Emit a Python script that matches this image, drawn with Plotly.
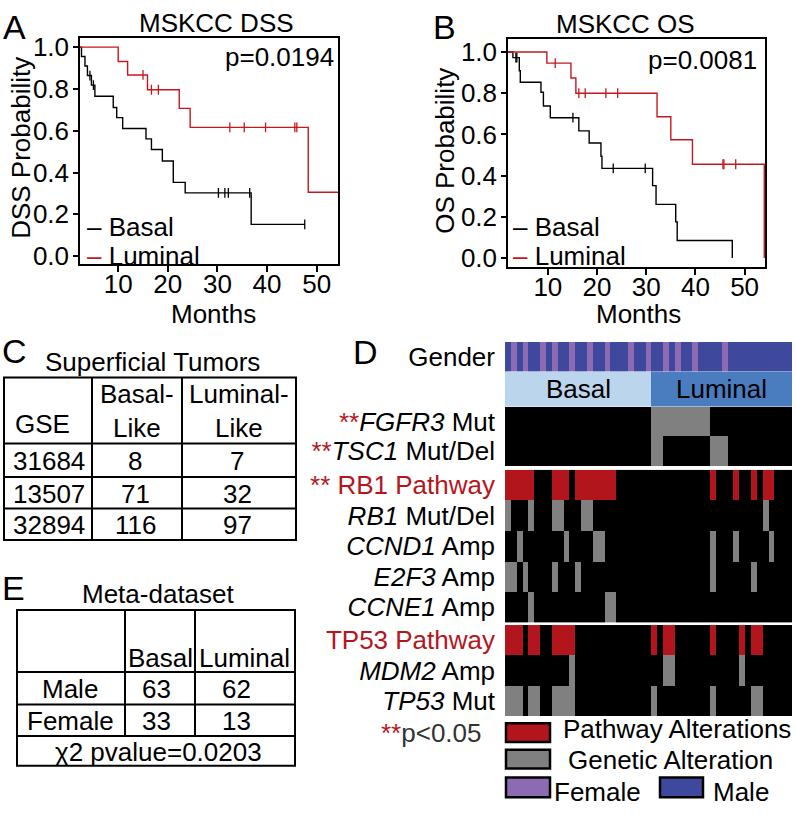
import plotly.graph_objects as go

# ---------------- data ----------------
# Panel A: MSKCC DSS (event times in months, survival after each event)
dss_basal_time = [2.6, 3.3, 3.8, 4.6, 5.3, 9.0, 9.7, 10.9, 15.6, 16.7, 18.9, 21.1, 23.5, 36.8]
dss_basal_surv = [0.955, 0.91, 0.864, 0.818, 0.765, 0.711, 0.663, 0.611, 0.561, 0.510, 0.455, 0.353, 0.303, 0.152]
dss_basal_censor = [4.3, 5.0, 30.2, 31.5, 32.2, 36.5, 47.6]
dss_basal_end = 47.6
dss_lum_time = [10.0, 11.9, 15.9, 22.3, 24.5, 48.3]
dss_lum_surv = [0.931, 0.867, 0.796, 0.707, 0.616, 0.306]
dss_lum_censor = [15.0, 16.7, 18.1, 32.5, 35.4, 39.7, 45.6, 46.0]
dss_lum_end = 58.0
dss_p = "p=0.0194"

# Panel B: MSKCC OS
os_basal_time = [2.9, 4.2, 4.4, 8.6, 9.1, 10.5, 16.3, 18.4, 20.8, 21.0, 31.3, 32.0, 36.0, 36.3, 47.5]
os_basal_surv = [0.973, 0.909, 0.853, 0.805, 0.738, 0.681, 0.617, 0.558, 0.494, 0.435, 0.351, 0.26, 0.175, 0.085, 0.0]
os_basal_censor = [3.5, 3.7, 15.1, 23.3, 29.8]
os_basal_end = 47.5
os_lum_time = [9.8, 14.7, 15.7, 32.2, 35.0, 39.4, 54.0]
os_lum_surv = [0.946, 0.874, 0.80, 0.686, 0.574, 0.455, 0.0]
os_lum_censor = [11.5, 16.3, 17.6, 21.8, 24.2, 45.6, 45.8, 48.2]
os_lum_end = 54.0
os_p = "p=0.0081"

month_ticks = [10, 20, 30, 40, 50]
prob_ticks = [0.0, 0.2, 0.4, 0.6, 0.8, 1.0]

# Panel C table
c_title = "Superficial Tumors"
c_gse = ["31684", "13507", "32894"]
c_basal = [8, 71, 116]
c_luminal = [7, 32, 97]

# Panel E table
e_title = "Meta-dataset"
e_sex = ["Male", "Female"]
e_basal = [63, 33]
e_luminal = [62, 13]
e_pvalue = "χ2 pvalue=0.0203"

# Panel D: oncoprint, 49 tumours (25 basal, 24 luminal); altered sample indices
n_basal, n_luminal = 25, 24
female_idx = [1, 3, 6, 8, 11, 14, 17, 21, 24, 27, 29, 32, 37]
fgfr3_mut = [25, 26, 27, 28, 29, 30, 31, 32, 33, 34]
tsc1_mut_del = [25, 26, 35, 36, 37]
rb1_mut_del = [0, 4, 8, 9, 13, 14, 44]
ccnd1_amp = [2, 10, 15, 16, 35, 39, 45]
e2f3_amp = [0, 1, 3, 8, 12, 35, 42]
ccne1_amp = [4, 17, 18]
mdm2_amp = [11, 27, 28, 40]
tp53_mut = [0, 1, 2, 4, 5, 8, 9, 10, 11, 25, 35, 42, 43]

# ---------------- helpers ----------------
W, H = 796, 815
FONT = "Liberation Sans, Arial, Helvetica, sans-serif"
RED_LINE = "#C8161E"
RED_CELL = "#B3151C"
GRAY = "#808080"
BLACK = "#000000"
MALE = "#3E489C"
FEMALE = "#8C6BB2"
BASAL_C = "#BBD5EC"
LUM_C = "#4A7DC0"
TXT_RED = "#B5161D"


def px(x):
    return x / W


def py(y):
    return 1 - y / H


def surv_at(times, survs, t):
    s = 1.0
    for ti, si in zip(times, survs):
        if ti <= t:
            s = si
    return s


n = n_basal + n_luminal


def row(idx, val=1):
    r = [0] * n
    for i in idx:
        r[i] = val
    return r


fig = go.Figure()

# ---------------- survival curves ----------------
def km(times, survs, censor, end, color, xa, ya):
    fig.add_trace(go.Scatter(
        x=[0] + times + [end], y=[1.0] + survs + [survs[-1]],
        mode="lines", line=dict(color=color, width=1.4, shape="hv"),
        xaxis=xa, yaxis=ya, hoverinfo="skip", showlegend=False))
    fig.add_trace(go.Scatter(
        x=censor, y=[surv_at(times, survs, t) for t in censor],
        mode="markers",
        marker=dict(symbol="line-ns-open", size=7, color=color,
                    line=dict(color=color, width=1.3)),
        xaxis=xa, yaxis=ya, hoverinfo="skip", showlegend=False))


km(dss_basal_time, dss_basal_surv, dss_basal_censor, dss_basal_end, "black", "x", "y")
km(dss_lum_time, dss_lum_surv, dss_lum_censor, dss_lum_end, RED_LINE, "x", "y")
km(os_basal_time, os_basal_surv, os_basal_censor, os_basal_end, "black", "x2", "y2")
km(os_lum_time, os_lum_surv, os_lum_censor, os_lum_end, RED_LINE, "x2", "y2")

# ---------------- oncoprint ----------------
gender_row = [1 if i in female_idx else 0 for i in range(n)]
subtype_row = [0] * n_basal + [1] * n_luminal
xs = list(range(n))

fig.add_trace(go.Heatmap(
    z=[gender_row], x=xs, y=[0], zmin=0, zmax=1,
    colorscale=[[0, MALE], [0.5, MALE], [0.5, FEMALE], [1, FEMALE]],
    showscale=False, hoverinfo="skip", xaxis="x3", yaxis="y3"))
fig.add_trace(go.Heatmap(
    z=[subtype_row], x=xs, y=[0], zmin=0, zmax=1,
    colorscale=[[0, BASAL_C], [0.5, BASAL_C], [0.5, LUM_C], [1, LUM_C]],
    showscale=False, hoverinfo="skip", xaxis="x3", yaxis="y4"))

alt_scale = [[0, BLACK], [0.25, BLACK], [0.25, GRAY], [0.75, GRAY], [0.75, RED_CELL], [1, RED_CELL]]

rb1_path = sorted(set(rb1_mut_del) | set(ccnd1_amp) | set(e2f3_amp) | set(ccne1_amp))
tp53_path = sorted(set(mdm2_amp) | set(tp53_mut))

block1 = [row(fgfr3_mut), row(tsc1_mut_del)]
block2 = [row(rb1_path, 2), row(rb1_mut_del), row(ccnd1_amp), row(e2f3_amp), row(ccne1_amp)]
block3 = [row(tp53_path, 2), row(mdm2_amp), row(tp53_mut)]

star = f"<span style='color:{TXT_RED}'>**</span>"
labels1 = [star + "<i>FGFR3</i> Mut", star + "<i>TSC1</i> Mut/Del"]
labels2 = [f"<span style='color:{TXT_RED}'>** RB1 Pathway</span>", "<i>RB1</i> Mut/Del",
           "<i>CCND1</i> Amp", "<i>E2F3</i> Amp", "<i>CCNE1</i> Amp"]
labels3 = [f"<span style='color:{TXT_RED}'>TP53 Pathway</span>", "<i>MDM2</i> Amp", "<i>TP53</i> Mut"]

for z, ya in [(block1, "y5"), (block2, "y6"), (block3, "y7")]:
    fig.add_trace(go.Heatmap(
        z=z, x=xs, y=list(range(len(z))), zmin=0, zmax=2, colorscale=alt_scale,
        showscale=False, hoverinfo="skip", xaxis="x3", yaxis=ya))

# ---------------- layout ----------------
tickfont = dict(family=FONT, size=26, color="black")
surv_x = dict(showline=True, mirror=True, linecolor="black", linewidth=1.5,
              ticks="outside", ticklen=6, tickwidth=1.5, tickcolor="black",
              tickvals=month_ticks, showgrid=False, zeroline=False, tickfont=tickfont,
              ticklabelstandoff=-10)
surv_y = dict(showline=True, mirror=True, linecolor="black", linewidth=1.5,
              ticks="outside", ticklen=5, tickwidth=1.5, tickcolor="black",
              tickvals=prob_ticks, tickformat=".1f", showgrid=False, zeroline=False,
              tickfont=tickfont, ticklabelstandoff=-1)

hm_y = dict(showgrid=False, zeroline=False, showline=False, ticks="",
            tickfont=tickfont, anchor="x3", ticklabelstandoff=9)

layout = dict(
    width=W, height=H, margin=dict(l=0, r=0, t=0, b=0),
    paper_bgcolor="white", plot_bgcolor="white", showlegend=False,
    font=dict(family=FONT, size=26, color="black"),
    xaxis=dict(surv_x, domain=[px(80), px(338)], range=[2.3, 54.3], anchor="y"),
    yaxis=dict(surv_y, domain=[py(263), py(33)], range=[-0.038, 1.046], anchor="x"),
    xaxis2=dict(surv_x, domain=[px(508), px(765)], range=[1.9, 54.15], anchor="y2"),
    yaxis2=dict(surv_y, domain=[py(265.7), py(35)], range=[-0.043, 1.061], anchor="x2"),
    xaxis3=dict(domain=[px(505), px(792)], range=[-0.5, n - 0.5], visible=False, anchor="y3"),
    yaxis3=dict(hm_y, domain=[py(372), py(342)], range=[-0.5, 0.5], tickvals=[0], ticktext=["Gender"]),
    yaxis4=dict(hm_y, domain=[py(408), py(372)], range=[-0.5, 0.5], showticklabels=False),
    yaxis5=dict(hm_y, domain=[py(468), py(408)], range=[1.5, -0.5],
                tickvals=list(range(2)), ticktext=labels1),
    yaxis6=dict(hm_y, domain=[py(626.7), py(471.7)], range=[4.5, -0.5],
                tickvals=list(range(5)), ticktext=labels2),
    yaxis7=dict(hm_y, domain=[py(721.7), py(629.3)], range=[2.5, -0.5],
                tickvals=list(range(3)), ticktext=labels3),
)
fig.update_layout(**layout)

ann = []
shapes = []


def text(x, y, s, size=26, xanchor="center", color="black", angle=0, yanchor="middle"):
    ann.append(dict(x=px(x), y=py(y), xref="paper", yref="paper", text=s, showarrow=False,
                    xanchor=xanchor, yanchor=yanchor, textangle=angle, borderpad=0,
                    font=dict(family=FONT, size=size, color=color)))


def hline(x0, x1, y, w=2):
    shapes.append(dict(type="line", xref="paper", yref="paper", x0=px(x0), x1=px(x1),
                       y0=py(y), y1=py(y), line=dict(color="black", width=w)))


def vline(x, y0, y1, w=2):
    shapes.append(dict(type="line", xref="paper", yref="paper", x0=px(x), x1=px(x),
                       y0=py(y0), y1=py(y1), line=dict(color="black", width=w)))


# panel letters
text(15, 22, "A", size=34)
text(444, 22, "B", size=34)
text(15, 351, "C", size=34)
text(365, 352, "D", size=34)
text(13, 592, "E", size=34)

# survival annotations
text(216, 18, "MSKCC DSS")
text(625, 19, "MSKCC OS")
text(335, 53, dss_p, xanchor="right")
text(758, 56, os_p, xanchor="right")
text(21, 145, "DSS Probability", angle=-90)
text(445, 148, "OS Probability", angle=-90)
text(213, 297.5, "Months", yanchor="top")
text(638, 297.5, "Months", yanchor="top")
for (x0, cols) in [(86, ("black", RED_LINE)), (512, ("black", RED_LINE))]:
    text(x0, 241.5, f"<span style='color:{cols[0]}'>–</span> Basal", xanchor="left", yanchor="bottom")
    text(x0, 239.0, f"<span style='color:{cols[1]}'>–</span> Luminal", xanchor="left", yanchor="top")

# table C
c_cols = [4, 92, 182, 296]
c_rows = [378, 445, 479, 511, 543]
for y in c_rows:
    hline(c_cols[0] - 1, c_cols[-1] + 1, y)
for x in c_cols:
    vline(x, c_rows[0], c_rows[-1])
text(152, 362, c_title)
text(14, 425, "GSE", xanchor="left")
text(137, 412, "Basal-<br>Like")
text(239, 412, "Luminal-<br>Like")
for i in range(len(c_gse)):
    yc = (c_rows[i + 1] + c_rows[i + 2]) / 2 + 1
    text(12, yc, c_gse[i], xanchor="left")
    text(135, yc, str(c_basal[i]))
    text(237, yc, str(c_luminal[i]))

# table E
e_cols = [17, 125, 195, 295]
e_rows = [614, 677, 710, 742, 772]
for y in e_rows:
    hline(e_cols[0] - 1, e_cols[-1] + 1, y)
vline(e_cols[0], e_rows[0], e_rows[-1])
vline(e_cols[-1], e_rows[0], e_rows[-1])
vline(e_cols[1], e_rows[0], e_rows[3])
vline(e_cols[2], e_rows[0], e_rows[3])
text(158, 598, e_title)
text(160, 663, "Basal")
text(245, 663, "Luminal")
for i in range(len(e_sex)):
    yc = (e_rows[i + 1] + e_rows[i + 2]) / 2 + 1
    text(70, yc, e_sex[i])
    text(156, yc, str(e_basal[i]))
    text(236, yc, str(e_luminal[i]))
text(158, 758, e_pvalue)

# oncoprint subtype labels
basal_center = sum(range(n_basal)) / n_basal
lum_center = sum(range(n_basal, n)) / n_luminal
ann.append(dict(x=basal_center, y=0, xref="x3", yref="y4", text="Basal", showarrow=False,
                font=dict(family=FONT, size=26, color="black")))
ann.append(dict(x=lum_center, y=0, xref="x3", yref="y4", text="Luminal", showarrow=False,
                font=dict(family=FONT, size=26, color="black")))

# oncoprint legend
def key(x0, y0, x1, y1, fill):
    shapes.append(dict(type="rect", xref="paper", yref="paper", x0=px(x0), x1=px(x1),
                       y0=py(y1), y1=py(y0), fillcolor=fill, line=dict(color="black", width=2.5)))


key(506, 729, 550, 748, RED_CELL)
key(506, 756, 550, 775, GRAY)
key(506, 784, 550, 804, FEMALE)
key(660, 784, 703, 804, MALE)
text(562, 751.5, "Pathway Alterations", xanchor="left", yanchor="bottom")
text(567, 750.5, "Genetic Alteration", xanchor="left", yanchor="top")
text(553, 782.5, "Female", xanchor="left", yanchor="top")
text(712, 782.5, "Male", xanchor="left", yanchor="top")
text(483, 739, f"<span style='color:{TXT_RED}'>**</span><span style='color:#333'>p&lt;0.05</span>",
     xanchor="right")

fig.update_layout(annotations=ann, shapes=shapes)
fig.write_html("out.html", config={"displayModeBar": False},
               post_script="document.body.style.margin='0px';document.body.style.overflow='hidden';")
